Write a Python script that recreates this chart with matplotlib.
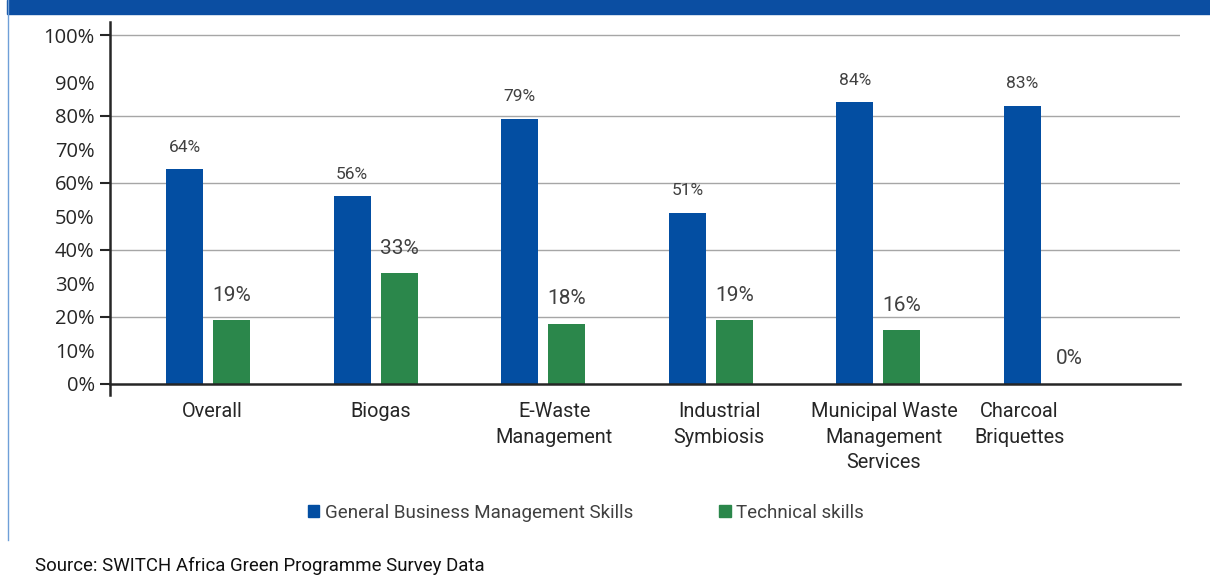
import matplotlib
matplotlib.use("Agg")
import numpy as np
import matplotlib.pyplot as plt
from matplotlib.patches import Rectangle
from matplotlib.lines import Line2D

categories = ["Overall", "Biogas", "E-Waste\nManagement", "Industrial\nSymbiosis",
              "Municipal Waste\nManagement\nServices", "Charcoal\nBriquettes"]
general = [64, 56, 79, 51, 84, 83]
technical = [19, 33, 18, 19, 16, 0]

# tick labels as drawn in the source (not evenly spaced at the top)
major_pos = [0, 20, 40, 60, 80, 104]
major_lab = ["0%", "20%", "40%", "60%", "80%", "100%"]
minor_pos = [10, 30, 50, 70, 90]
minor_lab = ["10%", "30%", "50%", "70%", "90%"]

blue = "#034ea2"
green = "#2b874b"
dark = "#262626"

fig = plt.figure(figsize=(12.1, 5.83), dpi=100)
ax = fig.add_axes([110/1210, 1-395/583, 1070/1210, 373/583])

x = np.arange(len(categories))
w = 0.22
ax.bar(x - 0.14, general, w, color=blue, zorder=3)
ax.bar(x + 0.14, technical, w, color=green, zorder=3)

for xi, v in zip(x, general):
    ax.annotate(f"{v}%", (xi - 0.14, v), xytext=(0, 16), textcoords="offset points",
                ha="center", va="center", fontsize=12.5, color="#404040", family="Roboto")
for xi, v in zip(x, technical):
    ax.annotate(f"{v}%", (xi + 0.14, v), xytext=(0, 18), textcoords="offset points",
                ha="center", va="center", fontsize=15, color="#404040", family="Roboto")

ax.set_xlim(-0.585, 5.80)
ax.set_ylim(-3.3, 108)

ax.set_yticks(major_pos)
ax.set_yticklabels(major_lab)
ax.set_yticks(minor_pos, minor=True)
ax.set_yticklabels(minor_lab, minor=True)
ax.tick_params(axis="y", which="major", length=7, width=1.5, color=dark, pad=4,
               labelsize=14.5, labelcolor=dark)
ax.tick_params(axis="y", which="minor", length=0, pad=11, labelsize=14.5, labelcolor=dark)
for lab in ax.get_yticklabels() + ax.get_yticklabels(minor=True):
    lab.set_family("Open Sans")

# category labels (Charcoal label sits slightly left, as in the source)
ax.set_xticks([])
shifts = [3, 4, 8, 6, 4, -19]
for xi, name, dx in zip(x, categories, shifts):
    ax.annotate(name, (xi, 0), xycoords=("data", "data"), xytext=(dx, -13),
                textcoords="offset points", ha="center", va="top", family="Roboto",
                fontsize=14.3, color=dark, linespacing=1.45, annotation_clip=False)

for yv in major_pos[1:]:
    ax.axhline(yv, color="#a6a6a6", lw=1, zorder=1)

ax.spines["top"].set_visible(False)
ax.spines["right"].set_visible(False)
ax.spines["left"].set_color(dark)
ax.spines["left"].set_linewidth(1.8)
ax.spines["bottom"].set_position(("data", 0))
ax.spines["bottom"].set_color(dark)
ax.spines["bottom"].set_linewidth(1.8)
ax.spines["bottom"].set_zorder(4)

handles = [Rectangle((0, 0), 1, 1, color=blue), Rectangle((0, 0), 1, 1, color=green)]
leg = fig.legend(handles, ["General Business Management Skills", "Technical skills"],
                 loc="center", bbox_to_anchor=(586/1210, 1-513/583), ncol=2, frameon=False,
                 handlelength=0.6, handleheight=0.6, handletextpad=0.3, columnspacing=4.6,
                 prop={"family": "Roboto", "size": 13.5})
for t in leg.get_texts():
    t.set_color("#404040")

fig.text(35/1210, 1-566/583, "Source: SWITCH Africa Green Programme Survey Data",
         family="Roboto", fontsize=13.4, color="#111111", ha="left", va="center")

# frame of the cropped figure box
fig.patches.append(Rectangle((7/1210, 1-14/583), 1, 14/583, transform=fig.transFigure,
                             color="#0b4ea2", zorder=0))
fig.lines.append(Line2D([8/1210, 8/1210], [1-540/583, 1], transform=fig.transFigure,
                        color="#6f9fd8", lw=1))

fig.savefig("out.png", dpi=100)
